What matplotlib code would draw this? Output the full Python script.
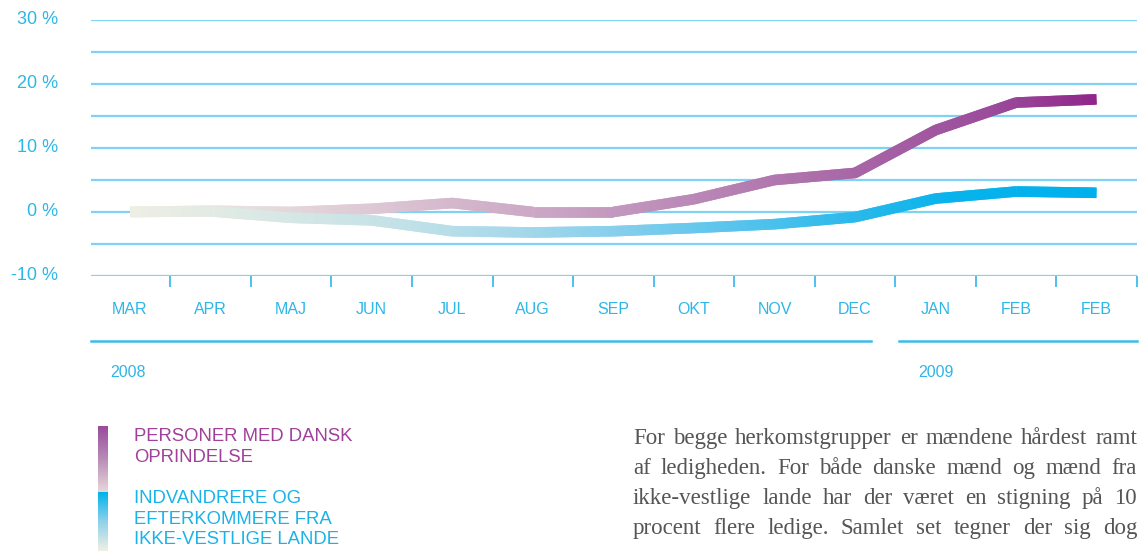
import numpy as np
import matplotlib
matplotlib.use("Agg")
import matplotlib.pyplot as plt
import matplotlib.transforms as mtransforms
from matplotlib.collections import LineCollection
from matplotlib.colors import LinearSegmentedColormap

months = ["MAR", "APR", "MAJ", "JUN", "JUL", "AUG", "SEP", "OKT", "NOV", "DEC", "JAN", "FEB", "FEB"]
years = ["2008", "2009"]
danish = [0, 0.2, 0, 0.5, 1.4, 0, 0, 2.0, 5.0, 6.1, 12.8, 17.1, 17.6]
immigrants = [0, 0.1, -0.9, -1.3, -3.0, -3.2, -3.0, -2.5, -1.9, -0.8, 2.1, 3.2, 3.0]
yticks = [-10, 0, 10, 20, 30]
legend_labels = ["PERSONER MED DANSK\nOPRINDELSE",
                 "INDVANDRERE OG\nEFTERKOMMERE FRA\nIKKE-VESTLIGE LANDE"]
body_lines = [
    "For begge herkomstgrupper er mændene hårdest ramt",
    "af ledigheden. For både danske mænd og mænd fra",
    "ikke-vestlige lande har der været en stigning på 10",
    "procent flere ledige. Samlet set tegner der sig dog",
]

CYAN = "#2db6e8"
GRID = "#7fd2f1"
SANS = ["Liberation Sans", "DejaVu Sans"]

purple_cmap = LinearSegmentedColormap.from_list("purple", [
    (0.0, "#efefe4"), (0.08, "#eae5e0"), (0.25, "#ddc8d5"), (0.33, "#d5b8cc"),
    (0.45, "#c8a2c3"), (0.6, "#b885b5"), (0.75, "#a866a6"), (0.9, "#9a4a9a"),
    (1.0, "#90268a")])
blue_cmap = LinearSegmentedColormap.from_list("blue", [
    (0.0, "#eeeee4"), (0.08, "#e3ebe4"), (0.2, "#d0e5e6"), (0.3, "#bfe0e8"),
    (0.4, "#a5d8ea"), (0.5, "#88cfec"), (0.6, "#62c6ec"), (0.75, "#2bb9eb"),
    (0.85, "#08b3eb"), (1.0, "#00b0ec")])


def to_fig(px, py):
    return px / 1145, 1 - py / 551


def gradient_line(ax, y, cmap, z):
    x = np.arange(len(y), dtype=float)
    xs = np.union1d(np.linspace(x[0], x[-1], 700), x)
    ys = np.interp(xs, x, y)
    pts = np.column_stack([xs, ys])
    segs = [pts[i:i + 3] for i in range(len(pts) - 2)]
    t = (xs[1:-1] - x[0]) / (x[-1] - x[0])
    lc = LineCollection(segs, colors=cmap(t), linewidths=7.6,
                        capstyle="butt", joinstyle="miter", zorder=z)
    ax.add_collection(lc)


fig = plt.figure(figsize=(11.45, 5.51), dpi=100)
ax = fig.add_axes([91 / 1145, 275 / 551, 1046 / 1145, 256 / 551])
ax.set_xlim(-0.484, 12.5)
ax.set_ylim(-10, 30)
for s in ax.spines.values():
    s.set_visible(False)

for v in range(-10, 31, 5):
    ax.axhline(v, color=GRID, lw=1.6, zorder=1)

ax.set_xticks([i + 0.5 for i in range(len(months))])
ax.tick_params(axis="x", direction="out", length=8, width=1.2, color=CYAN,
               labelbottom=False)
ax.set_yticks([])

gradient_line(ax, danish, purple_cmap, 3)
gradient_line(ax, immigrants, blue_cmap, 4)

# y labels
for v in yticks:
    ax.text(-0.89, v, f"{v} %", ha="right", va="center", color=CYAN,
            fontsize=13, family=SANS, transform=ax.transData, clip_on=False)

trans = mtransforms.blended_transform_factory(ax.transData, ax.transAxes)
for i, m in enumerate(months):
    ax.text(i, -0.13, m, ha="center", va="center", color=CYAN, fontsize=11.5,
            family=SANS, transform=trans)

# year separators
ax.plot([-0.484, 9.2], [-0.254, -0.254], color="#3cbde9", lw=1.8,
        transform=trans, clip_on=False)
ax.plot([9.55, 12.5], [-0.254, -0.254], color="#3cbde9", lw=1.8,
        transform=trans, clip_on=False)
ax.text(-0.25, -0.377, years[0], ha="left", va="center", color=CYAN,
        fontsize=11.5, family=SANS, transform=trans)
ax.text(9.78, -0.377, years[1], ha="left", va="center", color=CYAN,
        fontsize=11.5, family=SANS, transform=trans)

# legend bars
grad = np.linspace(1, 0, 100).reshape(-1, 1)
bar1 = fig.add_axes([98 / 1145, 1 - 492 / 551, 10 / 1145, 66 / 551])
bar1.imshow(grad, aspect="auto", cmap=LinearSegmentedColormap.from_list(
    "b1", ["#e6d8da", "#b98ab8", "#984a9b"]))
bar1.axis("off")
bar2 = fig.add_axes([98 / 1145, 0, 10 / 1145, 59 / 551])
bar2.imshow(grad, aspect="auto", cmap=LinearSegmentedColormap.from_list(
    "b2", ["#eef0e4", "#8fd1ea", "#00b3eb"]))
bar2.axis("off")

fig.text(*to_fig(134, 428), legend_labels[0], ha="left", va="top",
         color="#a0409a", fontsize=13.3, family=SANS, linespacing=1.28)
fig.text(*to_fig(134, 490), legend_labels[1], ha="left", va="top",
         color="#1ab3e8", fontsize=13.3, family=SANS, linespacing=1.28)

# justified body text
renderer = fig.canvas.get_renderer()
left, right = 633, 1137
for k, line in enumerate(body_lines):
    words = line.split(" ")
    texts = []
    widths = []
    for w in words:
        t = fig.text(0, 0, w, fontsize=16.5, family="Liberation Serif",
                     color="#555555", va="baseline", ha="left")
        widths.append(t.get_window_extent(renderer).width)
        texts.append(t)
    gap = (right - left - sum(widths)) / (len(words) - 1)
    x = left
    yb = 444 + 30 * k
    for t, w in zip(texts, widths):
        t.set_position(to_fig(x, yb))
        x += w + gap

fig.savefig("out.png", dpi=100)
